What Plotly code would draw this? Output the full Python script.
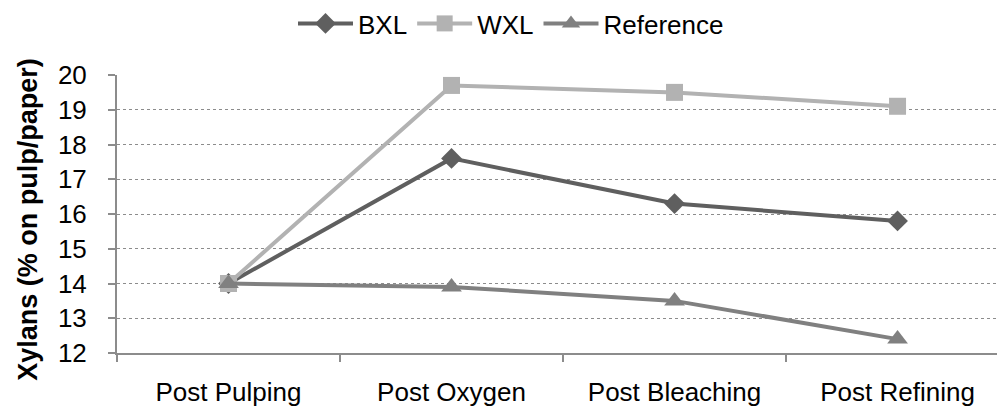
import plotly.graph_objects as go

categories = ["Post Pulping", "Post Oxygen", "Post Bleaching", "Post Refining"]
bxl = [14.0, 17.6, 16.3, 15.8]
wxl = [14.0, 19.7, 19.5, 19.1]
reference = [14.0, 13.9, 13.5, 12.4]
y_ticks = [12, 13, 14, 15, 16, 17, 18, 19, 20]
y_title = "Xylans (% on pulp/paper)"

fig = go.Figure()
fig.add_trace(go.Scatter(x=categories, y=bxl, name="BXL", mode="lines+markers",
                         line=dict(color="#5f5f5f", width=4),
                         marker=dict(symbol="diamond", size=16, color="#5f5f5f")))
fig.add_trace(go.Scatter(x=categories, y=wxl, name="WXL", mode="lines+markers",
                         line=dict(color="#b2b2b2", width=4),
                         marker=dict(symbol="square", size=17, color="#b2b2b2")))
fig.add_trace(go.Scatter(x=categories, y=reference, name="Reference", mode="lines+markers",
                         line=dict(color="#808080", width=4),
                         marker=dict(symbol="triangle-up", size=18, color="#808080")))

font_family = "Liberation Sans, Arial, sans-serif"
fig.update_layout(
    width=997, height=406,
    margin=dict(l=117, r=0, t=74, b=53),
    paper_bgcolor="white", plot_bgcolor="white",
    font=dict(family=font_family, size=26, color="black"),
    showlegend=True,
    legend=dict(orientation="h", x=0.2, xanchor="left", y=1.186, yref="paper",
                yanchor="middle", font=dict(size=26), itemwidth=55, tracegroupgap=0),
    xaxis=dict(
        type="category", range=[-0.5, 3.446],
        showline=True, linecolor="#8c8c8c", linewidth=2,
        ticks="outside", tickson="boundaries", ticklen=7, tickcolor="#8c8c8c", tickwidth=2,
        showgrid=False, zeroline=False,
        ticklabelstandoff=15, tickfont=dict(size=26),
    ),
    yaxis=dict(
        range=[12, 20], tickvals=y_ticks,
        showline=True, linecolor="#8c8c8c", linewidth=2,
        ticks="outside", ticklen=7, tickcolor="#8c8c8c", tickwidth=2,
        showgrid=True, gridcolor="#8c8c8c", griddash="dot", gridwidth=1,
        zeroline=False, tickfont=dict(size=26), ticklabelstandoff=16,
    ),
    annotations=[dict(text="<b>" + y_title + "</b>", textangle=-90,
                      xref="paper", yref="paper", x=-0.102, y=0.48,
                      xanchor="center", yanchor="middle", showarrow=False,
                      font=dict(size=27))],
)
fig.write_html("out.html")
